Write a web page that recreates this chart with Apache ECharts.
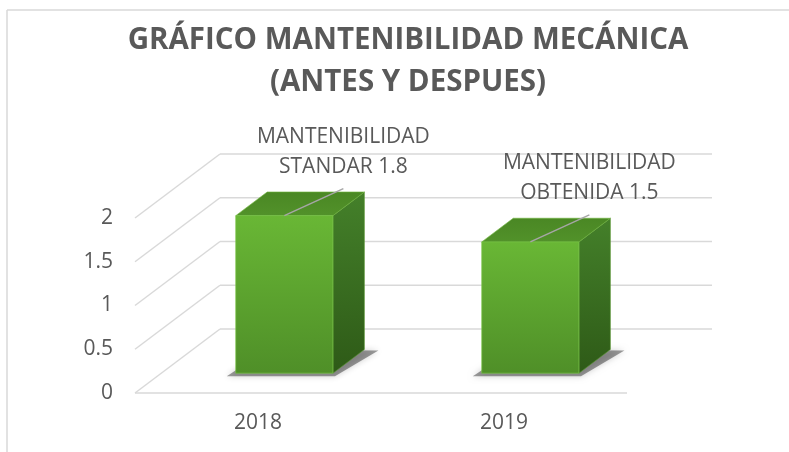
<!DOCTYPE html>
<html>
<head>
<meta charset="utf-8">
<script src="https://cdn.jsdelivr.net/npm/echarts@6/dist/echarts.min.js"></script>
<style>
  html, body { margin: 0; padding: 0; background: #ffffff; }
  #chart { width: 789px; height: 452px; }
</style>
</head>
<body>
<div id="chart"></div>
<script>
// Chart data
const categories = ['2018', '2019'];
const values = [1.8, 1.5];
const labelHeads = ['MANTENIBILIDAD', 'MANTENIBILIDAD'];
const labelKinds = ['STANDAR', 'OBTENIDA'];
const yTicks = [0, 0.5, 1, 1.5, 2];
const titleLines = ['GRÁFICO MANTENIBILIDAD MECÁNICA', '(ANTES Y DESPUES)'];

// Oblique projection: screen offset for one full unit of floor depth
const DEPTH = [85, -64];
const FRONT_DEPTH = 0.31;
const BACK_DEPTH = 0.68;
const BAR_WIDTH = 0.395;   // share of the category band
const TEXT = '#595959';
const GRID_LINE = { stroke: '#d9d9d9', lineWidth: 1.5 };

function shift(p, f) {
  return [p[0] + DEPTH[0] * f, p[1] + DEPTH[1] * f];
}

function renderWalls(params, api) {
  const cs = params.coordSys;
  const left = cs.x, right = cs.x + cs.width;
  const children = [];
  yTicks.forEach(function (v) {
    const y = api.coord([0, v])[1];
    const a = [left, y];
    const b = shift(a, 1);
    const c = shift([right, y], 1);
    children.push({ type: 'line', shape: { x1: a[0], y1: a[1], x2: b[0], y2: b[1] }, style: GRID_LINE });
    children.push({ type: 'line', shape: { x1: b[0], y1: b[1], x2: c[0], y2: c[1] }, style: GRID_LINE });
  });
  const y0 = api.coord([0, 0])[1];
  children.push({ type: 'line', shape: { x1: left, y1: y0, x2: right, y2: y0 }, style: GRID_LINE });
  return { type: 'group', children: children };
}

function renderBar(params, api) {
  const i = api.value(0), v = api.value(1);
  const top = api.coord([i, v]);
  const base = api.coord([i, 0]);
  const w = api.size([1, 0])[0] * BAR_WIDTH;
  const xl = top[0] - w / 2, xr = top[0] + w / 2;

  const FBL = shift([xl, base[1]], FRONT_DEPTH);
  const FBR = shift([xr, base[1]], FRONT_DEPTH);
  const FTL = shift([xl, top[1]], FRONT_DEPTH);
  const FTR = shift([xr, top[1]], FRONT_DEPTH);
  const BTL = shift([xl, top[1]], BACK_DEPTH);
  const BTR = shift([xr, top[1]], BACK_DEPTH);
  const BBR = shift([xr, base[1]], BACK_DEPTH);
  const BBL = shift([xl, base[1]], BACK_DEPTH);

  const mid = [(FTL[0] + FTR[0]) / 2, FTL[1]];
  const lead = [mid[0] + 59, mid[1] - 27];

  return {
    type: 'group',
    children: [
      { // soft floor shadow
        type: 'polygon',
        shape: { points: [[FBL[0] - 9, FBL[1] + 3], [FBR[0] + 2, FBR[1] + 3], [BBR[0] + 14, BBR[1] + 1], [BBL[0], BBL[1]]] },
        style: { fill: 'rgba(0,0,0,0.38)', shadowBlur: 6, shadowColor: 'rgba(0,0,0,0.5)' }
      },
      {
        type: 'polygon',
        shape: { points: [FTR, BTR, BBR, FBR] },
        style: {
          fill: new echarts.graphic.LinearGradient(0, 0, 0, 1, [
            { offset: 0, color: '#44802a' }, { offset: 1, color: '#2e5a17' }
          ]),
          stroke: 'rgba(90,150,50,0.6)', lineWidth: 1
        }
      },
      {
        type: 'polygon',
        shape: { points: [FTL, FTR, BTR, BTL] },
        style: {
          fill: new echarts.graphic.LinearGradient(0, 0, 0, 1, [
            { offset: 0, color: '#4a8724' }, { offset: 1, color: '#52922a' }
          ]),
          stroke: 'rgba(110,180,60,0.6)', lineWidth: 1
        }
      },
      {
        type: 'polygon',
        shape: { points: [FTL, FTR, FBR, FBL] },
        style: {
          fill: new echarts.graphic.LinearGradient(0, 0, 0, 1, [
            { offset: 0, color: '#69b735' }, { offset: 1, color: '#4f8f28' }
          ]),
          stroke: 'rgba(120,195,70,0.7)', lineWidth: 1
        }
      },
      {
        type: 'line',
        shape: { x1: mid[0], y1: mid[1], x2: lead[0], y2: lead[1] },
        style: { stroke: '#a6a6a6', lineWidth: 1.5 }
      },
      {
        type: 'text',
        z2: 10,
        style: {
          x: mid[0] + 59,
          y: mid[1] - 34,
          text: labelHeads[i] + '\n' + labelKinds[i] + ' ' + v,
          align: 'center',
          verticalAlign: 'bottom',
          fontFamily: 'Open Sans',
          fontSize: 21,
          lineHeight: 30,
          fill: TEXT
        }
      }
    ]
  };
}

const chart = echarts.init(document.getElementById('chart'), null, { renderer: 'canvas' });

chart.setOption({
  animation: false,
  backgroundColor: '#ffffff',
  graphic: [
    { type: 'line', shape: { x1: 7, y1: 10, x2: 789, y2: 10 }, style: { stroke: '#d9d9d9', lineWidth: 1.5 } },
    { type: 'line', shape: { x1: 7, y1: 10, x2: 7, y2: 452 }, style: { stroke: '#d9d9d9', lineWidth: 1.5 } },
    {
      type: 'text',
      x: 408, y: 20,
      style: {
        text: titleLines.join('\n'),
        align: 'center',
        verticalAlign: 'top',
        fontFamily: 'Open Sans',
        fontWeight: 'bold',
        fontSize: 29.5,
        lineHeight: 42,
        fill: TEXT
      }
    }
  ],
  grid: { left: 135, right: 162, top: 218, bottom: 59, containLabel: false },
  xAxis: {
    type: 'category',
    data: categories,
    axisLine: { show: false },
    axisTick: { show: false },
    axisLabel: { color: TEXT, fontFamily: 'Open Sans', fontSize: 21, margin: 20 }
  },
  yAxis: {
    type: 'value',
    min: 0, max: 2, interval: 0.5,
    axisLine: { show: false },
    axisTick: { show: false },
    splitLine: { show: false },
    axisLabel: { color: TEXT, fontFamily: 'Open Sans', fontSize: 21, margin: 22 }
  },
  series: [
    {
      type: 'custom',
      renderItem: renderWalls,
      data: [[0, 0]],
      clip: false,
      silent: true,
      z: 1
    },
    {
      type: 'custom',
      renderItem: renderBar,
      data: values.map(function (v, i) { return [i, v]; }),
      clip: false,
      z: 2
    }
  ]
});
</script>
</body>
</html>
